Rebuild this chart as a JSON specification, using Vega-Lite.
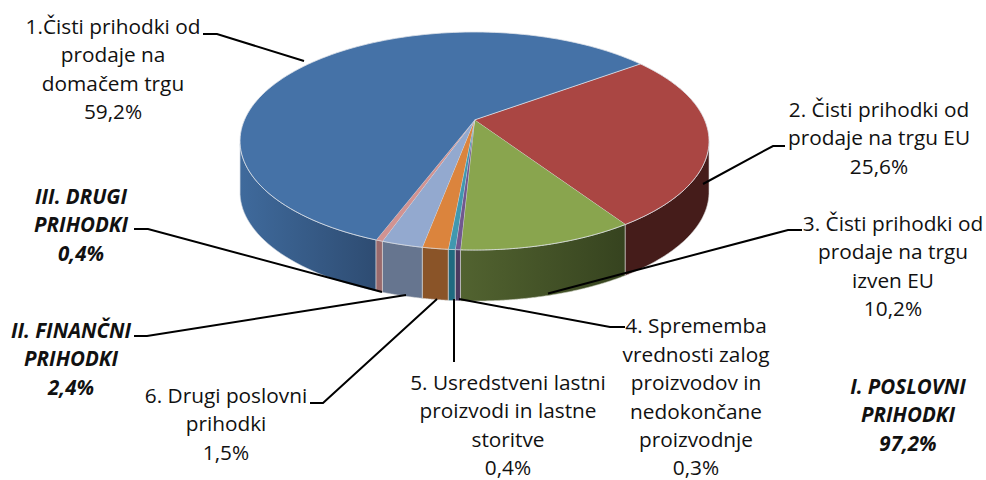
{
"$schema":"https://vega.github.io/schema/vega-lite/v6.json",
"width":986,"height":480,"padding":0,"autosize":"none","background":"white",
"config":{"view":{"stroke":null}},
"resolve":{"scale":{"fill":"independent"}},
"datasets":{
"labels":[
{"u":-1.5416,"v":-0.9817,"kind":"item","text":"1.Čisti prihodki od\nprodaje na\ndomačem trgu\n59,2%"},
{"u":1.7249,"v":-0.2202,"kind":"item","text":"2. Čisti prihodki od\nprodaje na trgu EU\n25,6%"},
{"u":1.7846,"v":0.8257,"kind":"item","text":"3. Čisti prihodki od\nprodaje na trgu\nizven EU\n10,2%"},
{"u":0.9446,"v":1.765,"kind":"item","text":"4. Sprememba\nvrednosti zalog\nproizvodov in\nnedokončane\nproizvodnje\n0,3%"},
{"u":0.1429,"v":2.2844,"kind":"item","text":"5. Usredstveni lastni\nproizvodi in lastne\nstoritve\n0,4%"},
{"u":-1.0597,"v":2.4037,"kind":"item","text":"6. Drugi poslovni\nprihodki\n1,5%"},
{"u":1.8486,"v":2.3211,"kind":"group","text":"I. POSLOVNI\nPRIHODKI\n97,2%"},
{"u":-1.7207,"v":1.8073,"kind":"group","text":"II. FINANČNI\nPRIHODKI\n2,4%"},
{"u":-1.678,"v":0.578,"kind":"group","text":"III. DRUGI\nPRIHODKI\n0,4%"}
],
"leaders":[
{"id":"1","k":0,"u":-1.1578,"v":-0.9817},{"id":"1","k":1,"u":-1.0981,"v":-0.9817},{"id":"1","k":2,"u":-0.7271,"v":-0.7339},
{"id":"2","k":0,"u":1.3241,"v":0.0459},{"id":"2","k":1,"u":1.2729,"v":0.0459},{"id":"2","k":2,"u":0.9744,"v":0.3945},
{"id":"3","k":0,"u":1.3966,"v":0.8165},{"id":"3","k":1,"u":1.3369,"v":0.8165},{"id":"3","k":2,"u":0.3134,"v":1.3991},
{"id":"4","k":0,"u":0.6418,"v":1.7064},{"id":"4","k":1,"u":0.5778,"v":1.7064},{"id":"4","k":2,"u":-0.0661,"v":1.4495},
{"id":"5","k":0,"u":-0.0874,"v":2.0275},{"id":"5","k":1,"u":-0.0874,"v":1.4495},
{"id":"6","k":0,"u":-0.7015,"v":2.4037},{"id":"6","k":1,"u":-0.6461,"v":2.4037},{"id":"6","k":2,"u":-0.1599,"v":1.4495},
{"id":"II","k":0,"u":-1.452,"v":1.789},{"id":"II","k":1,"u":-1.3966,"v":1.789},{"id":"II","k":2,"u":-0.2921,"v":1.4128},
{"id":"III","k":0,"u":-1.452,"v":0.8073},{"id":"III","k":1,"u":-1.3923,"v":0.8073},{"id":"III","k":2,"u":-0.3945,"v":1.3853}
]
},
"data":{"values":[
{"rank":1,"slice":"2. Čisti prihodki od prodaje na trgu EU","share":25.6},
{"rank":2,"slice":"3. Čisti prihodki od prodaje na trgu izven EU","share":10.2},
{"rank":3,"slice":"4. Sprememba vrednosti zalog","share":0.3},
{"rank":4,"slice":"5. Usredstveni lastni proizvodi","share":0.4},
{"rank":5,"slice":"6. Drugi poslovni prihodki","share":1.5},
{"rank":6,"slice":"II. Finančni prihodki","share":2.4},
{"rank":7,"slice":"III. Drugi prihodki","share":0.4},
{"rank":8,"slice":"1. Čisti prihodki od prodaje na domačem trgu","share":59.2}
]},
"transform":[
{"window":[{"op":"sum","field":"share","as":"end"}],"sort":[{"field":"rank"}],"frame":[null,0]},
{"calculate":"sequence(0,122)","as":"i"},
{"flatten":["i"]},
{"calculate":"(54+3.6*(datum.end-datum.share+datum.share*datum.i/120))*PI/180","as":"phi"},
{"calculate":"0.193*cos(datum.phi)","as":"b"},
{"calculate":"-datum.b+sqrt(datum.b*datum.b+1-0.193*0.193)","as":"t"},
{"calculate":"datum.i>120?0:datum.t*sin(datum.phi)","as":"u"},
{"calculate":"datum.i>120?-0.193:-0.193-datum.t*cos(datum.phi)","as":"v"},
{"calculate":"datum.v+0.468","as":"v2"}
],
"encoding":{
"x":{"field":"u","type":"quantitative","axis":null,"scale":{"domain":[-2.0235,2.1812],"nice":false,"zero":false}},
"y":{"field":"v","type":"quantitative","axis":null,"scale":{"domain":[3.1101,-1.2936],"nice":false,"zero":false}}
},
"layer":[
{"transform":[{"filter":"datum.i<=120&&datum.v>=-0.005&&datum.rank==8"}],
 "mark":{"type":"area","interpolate":"linear","stroke":"#c9d2dc","strokeWidth":0.6,"fill":{"gradient":"linear","x1":0,"x2":1,"y1":0,"y2":0,"stops":[{"offset":0,"color":"#3f6a9c"},{"offset":1,"color":"#2e4c72"}]}},
 "encoding":{"y2":{"field":"v2"}}},
{"transform":[{"filter":"datum.i<=120&&datum.v>=-0.005&&datum.rank==2"}],
 "mark":{"type":"area","interpolate":"linear","stroke":"#c9cdbd","strokeWidth":0.6,"fill":{"gradient":"linear","x1":0,"x2":1,"y1":0,"y2":0,"stops":[{"offset":0,"color":"#526330"},{"offset":1,"color":"#36431f"}]}},
 "encoding":{"y2":{"field":"v2"}}},
{"transform":[{"filter":"datum.i<=120&&datum.v>=-0.005&&datum.rank!=8&&datum.rank!=2"}],
 "mark":{"type":"area","interpolate":"linear","stroke":"#d8d8d8","strokeWidth":0.6},
 "encoding":{"y2":{"field":"v2"},"detail":{"field":"rank"},
  "fill":{"field":"rank","type":"nominal","legend":null,"scale":{"domain":[1,3,4,5,6,7],"range":["#451c1a","#4b3a60","#1f6a80","#8a5428","#66758f","#9a6a6c"]}}}},
{"mark":{"type":"line","interpolate":"linear","strokeWidth":0.8,"stroke":"#dfe3ea"},
 "encoding":{"order":{"field":"i","type":"quantitative"},"detail":{"field":"rank"},
  "fill":{"field":"rank","type":"nominal","legend":null,"scale":{"domain":[1,2,3,4,5,6,7,8],"range":["#AA4643","#89A54E","#71588F","#4198AF","#DB843D","#93A9CF","#D19392","#4572A7"]}}}},
{"data":{"name":"leaders"},"mark":{"type":"line","color":"black","strokeWidth":2,"interpolate":"linear"},
 "encoding":{"detail":{"field":"id"},"order":{"field":"k","type":"quantitative"}}},
{"data":{"name":"labels"},"transform":[{"filter":"datum.kind=='item'"}],
 "mark":{"type":"text","font":"Open Sans","fontSize":20.8,"lineBreak":"\n","lineHeight":28.4,"align":"center","baseline":"alphabetic","color":"#111"},
 "encoding":{"text":{"field":"text"}}},
{"data":{"name":"labels"},"transform":[{"filter":"datum.kind=='group'"}],
 "mark":{"type":"text","font":"Open Sans","fontSize":20.5,"fontWeight":"bold","fontStyle":"italic","lineBreak":"\n","lineHeight":28.4,"align":"center","baseline":"alphabetic","color":"#111"},
 "encoding":{"text":{"field":"text"}}}
]
}
